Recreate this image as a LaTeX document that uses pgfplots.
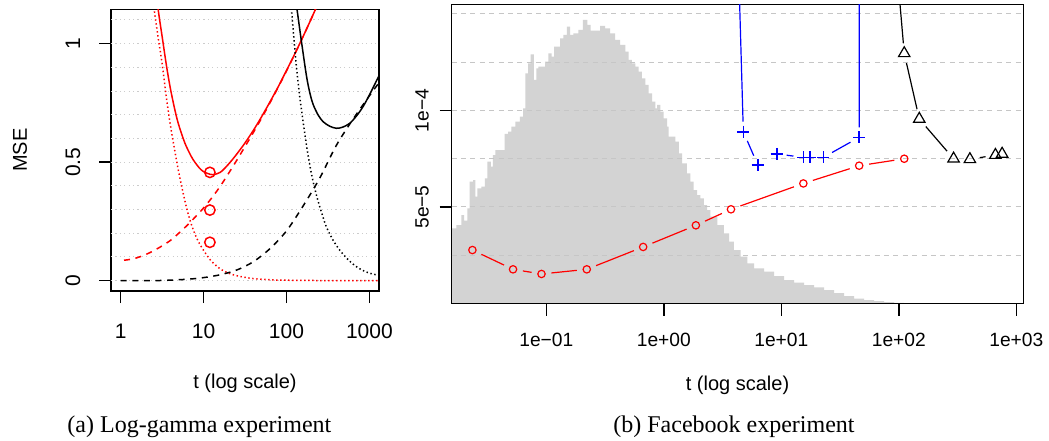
\documentclass[border=0pt]{standalone}
\usepackage{fontspec}
\setmainfont{Liberation Sans}
\newfontfamily\capfont{Liberation Serif}
\usepackage{pgfplots}
\pgfplotsset{compat=1.18}
\definecolor{histgray}{RGB}{211,211,211}
\definecolor{gridgray}{RGB}{200,200,200}
\definecolor{rred}{RGB}{255,0,0}
\definecolor{rblue}{RGB}{0,0,255}
\pgfplotsset{rbase/.style={scale only axis, anchor=south west,
  axis line style={line width=0.7pt}, tick align=outside, major tick length=6pt,
  xtick pos=left, ytick pos=left, tick style={line width=0.7pt, black},
  xminorticks=false, yminorticks=false, clip=true,
  yticklabel style={rotate=90, anchor=base},
  xticklabel style={anchor=base}}}
\newcommand{\seg}[5]{\addplot[#1, line width=0.6pt, shorten <=5pt, shorten >=5pt, forget plot] coordinates {(#2,#3) (#4,#5)};}
\begin{document}
\begin{tikzpicture}
\useasboundingbox (0,0) rectangle (524.5pt,220pt);
% ---------------- (a) Log-gamma experiment ----------------
\begin{axis}[rbase, at={(55.5pt,74.5pt)}, width=134pt, height=140.85pt,
  xmode=log, xmin=0.764, xmax=1306, ymin=-0.0435, ymax=1.145,
  xtick={1,10,100,1000}, xticklabels={1,10,100,1000},
  ytick={0,0.5,1}, yticklabels={0,0.5,1},
  extra y ticks={0,0.1,0.2,0.3,0.4,0.5,0.6,0.7,0.8,0.9,1.0,1.1},
  extra y tick labels={},
  extra y tick style={grid=major, major tick length=0pt},
  major grid style={gray!40, dash pattern=on 0.6pt off 1.6pt, line width=0.5pt},
  tick label style={font=\fontsize{10.5}{12}\selectfont},
  label style={font=\fontsize{10.5}{12}\selectfont},
  xticklabel shift=17.5pt, yticklabel shift=9.5pt,
  xlabel={t (log scale)}, ylabel={MSE},
  every axis x label/.style={at={([yshift=-46.2pt]axis description cs:0.5,0)}, anchor=center},
  every axis y label/.style={at={([xshift=-45.5pt]axis description cs:0,0.5)}, rotate=90, anchor=center}]
% red solid (MSE)
\addplot[rred, line width=0.75pt, smooth] coordinates {
(2.63,1.25) (2.838,1.142) (3.162,1.03) (3.581,0.903) (3.981,0.81) (4.508,0.72)
(5.012,0.657) (5.957,0.58) (7.079,0.525) (7.852,0.5) (8.913,0.475) (10,0.46)
(11.91,0.449) (13.18,0.447) (15.85,0.457) (18.07,0.475) (22.39,0.512) (29.99,0.570)
(39.81,0.634) (50.12,0.692) (63.1,0.754) (79.43,0.818) (100,0.887) (125.9,0.957)
(158.5,1.03) (199.5,1.106) (251.2,1.185)};
% red dashed
\addplot[rred, line width=0.75pt, smooth, dash pattern=on 3pt off 2.8pt] coordinates {
(1.096,0.0865) (1.259,0.089) (1.585,0.097) (1.995,0.11) (2.512,0.127) (3.162,0.147)
(3.981,0.17) (5.012,0.2) (6.31,0.233) (7.943,0.269) (10,0.307) (12.59,0.35)
(15.85,0.398) (19.95,0.452) (25.12,0.508) (31.62,0.566) (39.81,0.625) (50.12,0.686)
(63.1,0.75) (79.43,0.816) (100,0.885) (125.9,0.956) (158.5,1.03) (199.5,1.106) (251.2,1.185)};
% red dotted
\addplot[rred, line width=0.75pt, smooth, dash pattern=on 0.7pt off 1.3pt] coordinates {
(2.399,1.22) (2.541,1.142) (2.818,1.03) (3.162,0.915) (3.548,0.775) (3.981,0.655)
(4.467,0.553) (5.012,0.458) (5.623,0.375) (6.31,0.30) (7.079,0.24) (7.943,0.193)
(8.913,0.157) (10,0.128) (11.22,0.102) (12.59,0.08) (15.85,0.05) (19.95,0.032)
(25.12,0.021) (31.62,0.014) (39.81,0.009) (63.1,0.004) (100,0.002) (316.2,0.0005) (1306,0)};
% black solid
\addplot[black, line width=0.75pt, smooth] coordinates {
(125.9,1.215) (134.3,1.142) (151.4,1.01) (173.8,0.866) (190.5,0.795) (208.9,0.745)
(239.9,0.70) (276.1,0.671) (331.1,0.652) (399.9,0.643) (478.6,0.648) (579.4,0.664)
(691.8,0.693) (837.5,0.734) (1023,0.79) (1306,0.865)};
% black dashed
\addplot[black, line width=0.75pt, smooth, dash pattern=on 3pt off 2.8pt] coordinates {
(1,0) (1.995,0.0005) (3.162,0.001) (6.31,0.006) (10,0.013) (15.85,0.025) (25.12,0.045)
(39.81,0.08) (63.1,0.135) (100,0.21) (158.5,0.315) (251.2,0.432) (398.1,0.57)
(631,0.68) (1000,0.78) (1306,0.835)};
% black dotted
\addplot[black, line width=0.75pt, smooth, dash pattern=on 0.7pt off 1.3pt] coordinates {
(107.2,1.25) (114.8,1.142) (123.0,1.02) (131.8,0.903) (144.5,0.776) (166.0,0.622)
(182.0,0.53) (199.5,0.453) (218.8,0.39) (239.9,0.337) (269.2,0.28) (302,0.228)
(363.1,0.172) (436.5,0.13) (549.5,0.09) (691.8,0.06) (871,0.04) (1096,0.028) (1306,0.023)};
% red circles
\addplot[rred, only marks, mark=o, mark size=2.6pt, mark options={line width=0.75pt}] coordinates {
(11.91,0.457) (11.91,0.298) (11.91,0.162)};
\end{axis}
% ---------------- (b) Facebook experiment: histogram ----------------
\begin{axis}[scale only axis, anchor=south west, at={(225.75pt,68.25pt)}, width=286pt, height=149.4pt,
  xmin=-1.807, xmax=3.061, ymin=0, ymax=298.8, hide axis]
\addplot[const plot mark left, fill=histgray, draw=none] coordinates {
(-1.807,75.2) (-1.766,78.5) (-1.723,88.5) (-1.700,82.8) (-1.672,95.2) (-1.652,121.8)
(-1.624,123.5) (-1.604,106.8) (-1.587,115.2) (-1.553,116.8) (-1.524,125.2) (-1.502,141.8)
(-1.473,136.8) (-1.454,148.5) (-1.434,153.5) (-1.354,169.5) (-1.326,171.8) (-1.298,176.8)
(-1.264,181.8) (-1.226,186.8) (-1.198,195.2) (-1.179,230.2) (-1.156,240.2) (-1.133,249.0)
(-1.105,223.5) (-1.085,235.2) (-1.068,236.8) (-1.011,241.8) (-0.983,250.2) (-0.954,246.8)
(-0.934,256.8) (-0.883,265.2) (-0.855,268.5) (-0.826,276.8) (-0.798,268.5) (-0.770,270.2)
(-0.728,273.5) (-0.690,283.5) (-0.651,278.5) (-0.622,272.8) (-0.543,277.5) (-0.500,275.2)
(-0.458,270.2) (-0.415,263.5) (-0.373,258.5) (-0.328,251.8) (-0.299,243.5) (-0.271,240.2)
(-0.243,236.8) (-0.214,231.8) (-0.186,225.2) (-0.157,218.5) (-0.129,210.2) (-0.100,201.8)
(-0.072,195.2) (-0.058,198.5) (-0.030,191.8) (-0.001,185.2) (0.027,176.8) (0.041,166.8)
(0.098,161.8) (0.127,150.2) (0.155,140.2) (0.197,130.2) (0.226,121.8) (0.254,113.5)
(0.283,108.5) (0.311,105.2) (0.340,98.5) (0.368,93.5) (0.396,86.8) (0.455,78.5)
(0.512,70.2) (0.555,61.8) (0.597,53.5) (0.654,46.8) (0.711,40.2) (0.768,35.2)
(0.853,31.8) (0.938,27.5) (1.023,23.5) (1.109,20.8) (1.194,18.5) (1.279,16.2)
(1.364,13.5) (1.449,10.5) (1.534,7.5) (1.619,5.0) (1.704,3.5) (1.789,2.3)
(1.874,1.3) (1.960,0.6) (2.045,0.3) (2.130,0)} \closedcycle;
\end{axis}
% ---------------- (b) Facebook experiment: curves ----------------
\begin{axis}[rbase, at={(225.75pt,68.25pt)}, width=286pt, height=149.4pt,
  xmode=log, xmin=0.0156, xmax=1151, ymin=0, ymax=1.548e-4, scaled y ticks=false,
  xtick={0.1,1,10,100,1000}, xticklabels={1e−01,1e+00,1e+01,1e+02,1e+03},
  ytick={5e-5,1e-4}, yticklabels={5e−5,1e−4},
  extra y ticks={2.5e-5,5e-5,7.5e-5,1e-4,1.25e-4,1.5e-4},
  extra y tick labels={},
  extra y tick style={grid=major, major tick length=0pt},
  major grid style={gray!45, dash pattern=on 2.5pt off 2.2pt, line width=0.5pt},
  tick label style={font=\fontsize{9.6}{11}\selectfont},
  label style={font=\fontsize{9.6}{11}\selectfont},
  xticklabel shift=15.25pt, yticklabel shift=5.5pt,
  xlabel={t (log scale)},
  every axis x label/.style={at={([yshift=-40.75pt]axis description cs:0.5,0)}, anchor=center}]
% red line segments (type b)
\seg{rred}{0.0235}{2.77e-5}{0.0521}{1.77e-5}
\seg{rred}{0.0521}{1.77e-5}{0.0910}{1.53e-5}
\seg{rred}{0.0910}{1.53e-5}{0.221}{1.77e-5}
\seg{rred}{0.221}{1.77e-5}{0.667}{2.93e-5}
\seg{rred}{0.667}{2.93e-5}{1.875}{4.05e-5}
\seg{rred}{1.875}{4.05e-5}{3.73}{4.88e-5}
\seg{rred}{3.73}{4.88e-5}{15.4}{6.22e-5}
\seg{rred}{15.4}{6.22e-5}{46}{7.14e-5}
\seg{rred}{46}{7.14e-5}{111.2}{7.50e-5}
% blue segments
\seg{rblue}{1.875}{9.4e-4}{4.75}{8.90e-5}
\seg{rblue}{4.75}{8.90e-5}{6.30}{7.18e-5}
\seg{rblue}{9.14}{7.75e-5}{15.4}{7.57e-5}
\seg{rblue}{22.8}{7.57e-5}{46}{8.61e-5}
\seg{rblue}{46}{8.61e-5}{46.3}{1.0e-3}
% black segments
\seg{black}{46}{4.0e-4}{111.2}{12.96e-5}
\seg{black}{111.2}{12.96e-5}{149.3}{9.56e-5}
\seg{black}{149.3}{9.56e-5}{292.4}{7.50e-5}
\seg{black}{402.6}{7.47e-5}{663.7}{7.69e-5}
% markers
\addplot[rred, only marks, mark=o, mark size=1.85pt, mark options={line width=0.6pt}] coordinates {
(0.0235,2.77e-5) (0.0521,1.77e-5) (0.0910,1.53e-5) (0.221,1.77e-5) (0.667,2.93e-5)
(1.875,4.05e-5) (3.73,4.88e-5) (15.4,6.22e-5) (46,7.14e-5) (111.2,7.50e-5)};
\addplot[rblue, only marks, mark=+, mark size=3pt, mark options={rblue, line width=0.8pt}] coordinates {
(4.75,8.90e-5) (6.30,7.18e-5) (9.14,7.75e-5) (15.4,7.57e-5) (17.5,7.57e-5) (22.8,7.57e-5) (46,8.61e-5)};
\addplot[black, only marks, mark=triangle, mark size=3.3pt, mark options={line width=0.6pt}] coordinates {
(111.2,12.96e-5) (149.3,9.56e-5) (292.4,7.50e-5) (402.6,7.47e-5) (663.7,7.69e-5) (757,7.75e-5)};
\end{axis}
\node[font=\capfont\fontsize{12}{14}\selectfont] at (99.7pt,6.5pt) {(a) Log-gamma experiment};
\node[font=\capfont\fontsize{12}{14}\selectfont] at (367pt,6.5pt) {(b) Facebook experiment};
\end{tikzpicture}
\end{document}
